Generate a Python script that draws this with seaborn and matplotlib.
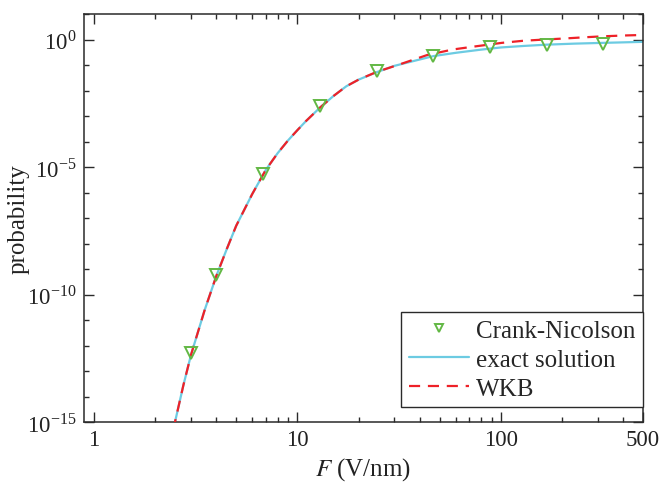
import numpy as np
import matplotlib
matplotlib.use("Agg")
import matplotlib.pyplot as plt
import matplotlib.ticker as mticker
import seaborn as sns

# values (probability given as log10)
f_cn = [3.0, 4.0, 6.8, 12.9, 24.6, 46.3, 88.3, 168.0, 317.0]
logp_cn = [-12.29, -9.24, -5.28, -2.62, -1.25, -0.63, -0.31, -0.20, -0.16]

f_exact = [2.45, 2.5, 2.75, 3.0, 3.5, 4.0, 4.5, 5.0, 6.0, 7.0, 8.0, 9.0, 10.0,
           11.0, 12.9, 15.0, 17.4, 20.0, 24.5, 30.0, 34.4, 40.0, 46.5, 60.0,
           79.0, 100.0, 130.0, 168.0, 230.0, 317.0, 400.0, 500.0]
logp_exact = [-15.3, -15.0, -13.55, -12.35, -10.6, -9.25, -8.2, -7.3, -6.05,
              -5.1, -4.45, -3.95, -3.55, -3.2, -2.67, -2.22, -1.83, -1.57,
              -1.28, -1.03, -0.91, -0.78, -0.65, -0.52, -0.40, -0.31, -0.25,
              -0.20, -0.16, -0.13, -0.11, -0.09]

f_wkb = [2.45, 2.5, 2.75, 3.0, 3.5, 4.0, 4.5, 5.0, 6.0, 7.0, 8.0, 9.0, 10.0,
         11.0, 12.9, 15.0, 17.4, 20.0, 24.5, 33.0, 43.3, 58.0, 76.2, 101.0,
         128.0, 163.0, 204.0, 259.0, 324.0, 407.0, 500.0]
logp_wkb = [-15.3, -15.0, -13.55, -12.35, -10.6, -9.25, -8.2, -7.3, -6.05,
            -5.1, -4.45, -3.95, -3.55, -3.2, -2.67, -2.22, -1.83, -1.57,
            -1.27, -0.93, -0.61, -0.39, -0.26, -0.13, -0.05, 0.0, 0.04, 0.09,
            0.13, 0.16, 0.18]

x_major = [1, 10, 100, 500]
x_minor = [2, 3, 4, 5, 6, 7, 8, 9, 20, 30, 40, 50, 60, 70, 80, 90, 200, 300, 400]
y_major_exp = [-15, -10, -5, 0]

sns.set_style("ticks")
plt.rcParams['font.family'] = ['Liberation Serif', 'DejaVu Serif']
plt.rcParams['mathtext.fontset'] = 'stix'

green = '#62b844'
blue = '#6ccbe2'
red = '#ee2128'
edge = '#2a2a2a'

fig = plt.figure(figsize=(6.64, 4.85), dpi=100)
ax = fig.add_axes([0.1265, 0.1272, 0.8419, 0.8418])

sns.lineplot(x=f_exact, y=10.0 ** np.array(logp_exact), ax=ax, color=blue,
             lw=1.6, label='exact solution', sort=False, zorder=2)
sns.lineplot(x=f_wkb, y=10.0 ** np.array(logp_wkb), ax=ax, color=red,
             lw=1.6, label='WKB', sort=False, zorder=3)
ax.lines[-1].set_dashes((5, 3.5))
sns.lineplot(x=f_cn, y=10.0 ** np.array(logp_cn), ax=ax, marker='v',
             linestyle='', markersize=8, mfc='none', mec=green, mew=1.4,
             color=green, label='Crank-Nicolson', sort=False, zorder=4)

ax.set_xscale('log')
ax.set_yscale('log')
ax.set_xlim(0.893, 500)
ax.set_ylim(1e-15, 10)

ax.xaxis.set_major_locator(mticker.FixedLocator(x_major))
ax.xaxis.set_minor_locator(mticker.FixedLocator(x_minor))
ax.xaxis.set_major_formatter(mticker.FixedFormatter([str(v) for v in x_major]))
ax.xaxis.set_minor_formatter(mticker.NullFormatter())

ax.yaxis.set_major_locator(mticker.FixedLocator([10.0 ** e for e in y_major_exp]))
ax.yaxis.set_minor_locator(mticker.FixedLocator(
    [10.0 ** e for e in range(-15, 2) if e not in y_major_exp]))
ax.yaxis.set_major_formatter(mticker.FixedFormatter(
    [r'10$^{\mathregular{%d}}$' % e for e in y_major_exp]))
ax.yaxis.set_minor_formatter(mticker.NullFormatter())

ax.tick_params(which='both', direction='in', top=True, right=True,
               color=edge, labelsize=16.5, labelcolor='#222222')
ax.tick_params(which='major', length=7, width=1, pad=5)
ax.tick_params(which='minor', length=3.5, width=1)
for s in ax.spines.values():
    s.set_color(edge)
    s.set_linewidth(1.1)

ax.set_xlabel(r'$\mathit{F}$ (V/nm)', fontsize=18, color='#222222')
ax.set_ylabel('probability', fontsize=18, color='#222222')
ax.xaxis.set_label_coords(0.5, -0.08)
ax.yaxis.set_label_coords(-0.098, 0.5)

handles, labels = ax.get_legend_handles_labels()
order = [labels.index(k) for k in ['Crank-Nicolson', 'exact solution', 'WKB']]
leg = ax.legend([handles[i] for i in order], [labels[i] for i in order],
                loc='lower right', bbox_to_anchor=(1.0, 0.037),
                borderaxespad=0, fontsize=18, frameon=True, fancybox=False,
                framealpha=1, edgecolor=edge, handlelength=2.4,
                handletextpad=0.3, labelspacing=0.25, borderpad=0.3,
                markerscale=0.8)
leg.get_frame().set_linewidth(1)

fig.savefig('out.png', dpi=100)
